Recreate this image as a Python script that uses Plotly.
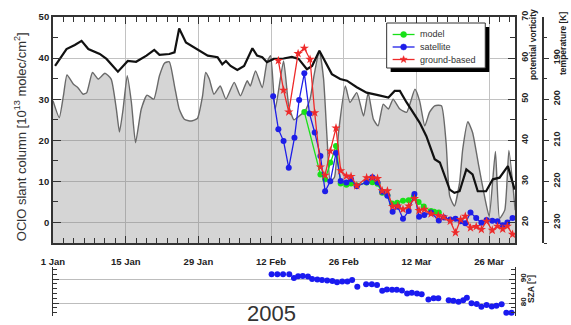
import math
import plotly.graph_objects as go

# ---------------- data (day of year 2005, Jan 1 = 1) ----------------
tick_days = [1, 15, 29, 43, 57, 71, 85]
tick_labels = ["1 Jan", "15 Jan", "29 Jan", "12 Feb", "26 Feb", "12 Mar", "26 Mar"]

# potential vorticity (grey filled curve)
pv_days = [1.0, 2.2, 3.0, 3.7, 4.9, 5.8, 6.8, 7.5, 8.6, 9.7, 11.0, 12.2, 13.2, 13.8, 14.5, 15.3,
           16.1, 16.9, 18.0, 19.1, 20.4, 21.5, 22.5, 23.4, 24.4, 25.3, 26.3, 27.6, 28.8, 29.8,
           30.4, 31.1, 32.0, 33.2, 34.3, 35.9, 37.1, 38.4, 39.0, 40.0, 41.3, 42.2, 42.9, 43.8,
           45.4, 46.4, 47.4, 48.5, 49.5, 50.5, 51.3, 52.3, 53.1, 53.8, 54.4, 55.2, 56.0, 57.3,
           58.2, 59.5, 60.8, 61.7, 62.7, 63.6, 64.6, 65.6, 66.5, 67.8, 69.1, 70.7, 71.6, 72.6,
           73.5, 74.5, 75.8, 76.7, 77.4, 78.3, 79.3, 79.9, 80.9, 81.8, 83.0, 84.1, 85.0, 86.2,
           87.0, 88.0, 88.8, 90.0]
pv_vals = [49.6, 45.5, 50.8, 55.9, 53.7, 52.8, 51.2, 51.6, 56.5, 54.9, 56.3, 54.9, 47.6, 42.0, 47.6, 55.7,
           49.2, 39.4, 47.6, 51.0, 50.0, 55.7, 58.8, 59.1, 53.2, 47.6, 45.1, 44.7, 45.3, 50.8,
           56.5, 54.9, 51.2, 53.2, 50.0, 54.1, 50.8, 54.5, 53.2, 56.9, 52.8, 59.0, 60.6, 47.6,
           59.3, 48.4, 45.0, 46.0, 47.0, 50.0, 56.0, 61.8, 55.0, 40.0, 30.0, 31.0, 42.0, 53.2,
           49.2, 51.6, 45.9, 51.6, 45.1, 43.5, 48.8, 47.6, 50.0, 47.6, 46.8, 52.4, 49.6, 43.5,
           46.8, 48.4, 48.4, 39.4, 26.4, 24.0, 29.7, 37.8, 44.5, 41.9, 33.7, 26.4, 21.5, 37.3,
           21.0, 23.0, 37.5, 23.0]

# temperature (black line)
t_days = [1.4, 3.6, 5.2, 6.5, 7.8, 10.0, 11.3, 13.5, 15.4, 17.0, 19.0, 20.5, 21.5, 23.4, 24.4,
          25.3, 26.6, 28.8, 30.8, 32.7, 33.6, 34.3, 35.2, 36.5, 37.8, 39.4, 40.3, 41.3, 42.2,
          43.5, 45.4, 47.0, 48.3, 49.9, 50.9, 52.3, 53.4, 54.7, 56.3, 57.6, 59.5, 61.4, 63.6,
          65.6, 66.8, 67.8, 69.1, 70.3, 71.6, 72.9, 74.5, 75.5, 76.4, 77.4, 78.3, 79.3, 80.6,
          81.8, 82.8, 84.4, 85.7, 87.0, 88.6, 89.9]
t_vals = [191.9, 187.8, 186.8, 185.8, 187.8, 189.0, 190.2, 193.3, 190.7, 190.9, 189.4, 188.0, 189.2, 189.0, 188.6,
          182.8, 186.2, 187.8, 189.4, 189.8, 191.5, 190.7, 191.9, 192.9, 191.9, 187.6, 189.4, 189.8, 191.0,
          190.2, 190.1, 189.7, 190.2, 192.7, 191.9, 188.2, 190.7, 193.9, 195.1, 195.5, 197.1, 198.4, 199.0,
          199.6, 198.0, 198.0, 200.8, 203.2, 205.7, 209.0, 214.6, 215.4, 218.3, 222.0, 222.8, 222.4, 217.1,
          218.3, 222.4, 222.4, 219.5, 219.1, 216.3, 222.0]

# OClO slant columns [1e13 molec/cm2]
model_days = [49.4, 52.5, 53.4, 54.4, 55.5, 56.4, 57.5, 58.4, 59.5, 61.4, 62.5, 63.5, 64.4, 65.4,
              66.3, 67.3, 68.4, 69.5, 70.5, 71.4, 72.4, 73.8, 74.4, 75.3]
model_vals = [26.9, 11.7, 10.5, 14.6, 18.6, 9.5, 9.2, 9.5, 9.0, 9.7, 9.8, 9.4, 7.2, 6.6,
              4.6, 4.8, 5.3, 5.4, 6.3, 5.0, 3.9, 2.8, 2.6, 2.4]

sat_days = [43.4, 44.4, 45.4, 46.4, 47.5, 48.4, 49.4, 50.4, 51.4, 52.5, 53.4, 54.4, 55.5, 56.4,
            57.5, 58.4, 59.5, 61.4, 62.5, 63.5, 64.4, 65.4, 66.4, 67.4, 68.4, 69.5, 70.6, 71.5,
            72.5, 73.8, 75.3, 76.3, 77.5, 78.5, 79.5, 80.4, 81.4, 82.5, 83.5, 84.5, 85.6, 86.6,
            87.6, 88.5, 89.5]
sat_vals = [30.7, 22.7, 19.8, 13.3, 20.6, 29.8, 36.3, 26.5, 21.9, 16.2, 7.6, 10.0, 16.9, 10.1,
            9.7, 10.5, 8.8, 9.8, 11.0, 9.7, 7.5, 6.5, 2.6, 3.8, 0.9, 2.8, 6.9, 1.4,
            1.8, 2.4, 0.5, 1.2, 0.7, 0.9, 0.3, -0.2, 2.4, 1.1, -0.1, 0.6, 0.4, 0.3,
            -0.7, 0.0, 1.1]

gb_days = [44.4, 45.4, 46.4, 48.2, 49.4, 50.5, 51.4, 52.5, 53.4, 54.4, 55.5, 56.4, 57.5, 58.4,
           59.5, 61.4, 62.5, 63.5, 64.4, 65.4, 66.4, 67.4, 68.4, 69.5, 70.6, 71.5, 72.5, 73.8,
           75.2, 76.2, 77.5, 78.5, 79.5, 80.4, 81.4, 82.5, 83.5, 84.5, 85.6, 86.6, 87.6, 88.5, 89.5]
gb_vals = [39.4, 32.2, 26.9, 41.1, 42.4, 39.7, 26.7, 13.5, 11.5, 17.4, 23.0, 12.6, 11.3, 11.2,
           8.9, 10.9, 10.9, 10.7, 7.7, 7.7, 3.9, 4.0, 3.2, 4.0, 5.8, 2.9, 3.2, 2.1,
           1.7, 1.3, 0.3, -2.5, 0.7, 1.5, -1.3, -1.0, -1.7, 0.3, -1.9, -0.9, -1.6, -0.9, -2.9]

# solar zenith angle (lower panel)
sza_days = [43.1, 44.2, 45.3, 46.5, 47.4, 48.2, 49.1, 50.1, 50.9, 51.9, 52.8, 53.8, 54.8, 55.7,
            56.7, 57.7, 58.6, 59.6, 61.3, 62.4, 63.4, 64.4, 65.3, 66.3, 67.2, 68.2, 69.2, 70.1,
            71.1, 72.0, 73.3, 74.3, 75.2, 77.2, 78.1, 79.1, 80.0, 80.7, 81.6, 82.6, 83.5, 84.5,
            85.5, 86.4, 87.4, 88.3, 89.3]
sza_vals = [92.0, 92.0, 92.0, 92.0, 90.4, 91.2, 91.3, 91.0, 90.0, 89.8, 89.6, 89.4, 89.2, 88.6,
            89.0, 89.0, 89.6, 86.8, 87.8, 87.8, 87.5, 85.1, 85.6, 85.5, 85.5, 85.2, 84.0, 84.3,
            84.0, 83.7, 81.5, 82.0, 82.0, 81.2, 80.9, 80.5, 81.2, 82.2, 79.9, 79.6, 78.5, 79.2,
            78.6, 78.9, 79.5, 76.0, 76.0]

series_names = ["model", "satellite", "ground-based"]
series_colors = ["#18e018", "#1e1ee8", "#ee2a2a"]

# ---------------- layout helpers ----------------
L, R, T, B = 53, 16, 17, 9
W, H = 571, 325
PW, PH = W - L - R, H - T - B


def px_x(p):
    return (p - L) / PW


def px_y(p):
    return (H - B - p) / PH


XD = px_x(517)
ink = "#222222"
grid = "#c2c2c2"
tickfont = dict(family="Arial", size=9.5, color=ink, weight="bold")
rtickfont = dict(family="Arial", size=9, color=ink, weight="bold")

fig = go.Figure()

fig.add_trace(go.Scatter(x=pv_days, y=pv_vals, mode="lines", fill="tozeroy",
                         fillcolor="rgba(128,128,128,0.33)",
                         line=dict(color="#6a6a6a", width=1.4, shape="spline", smoothing=0.5),
                         xaxis="x", yaxis="y", showlegend=False, hoverinfo="skip",
                         name="potential vorticity"))
fig.add_trace(go.Scatter(x=t_days, y=t_vals, mode="lines", line=dict(color="#111111", width=2.2),
                         xaxis="x", yaxis="y2", showlegend=False, hoverinfo="skip",
                         name="temperature"))
symbols = ["circle", "circle", "star"]
sizes = [6, 6, 7]
for name, col, sym, sz, xs, ys in zip(series_names, series_colors, symbols, sizes,
                                      [model_days, sat_days, gb_days],
                                      [model_vals, sat_vals, gb_vals]):
    fig.add_trace(go.Scatter(x=xs, y=ys, mode="lines+markers", name=name,
                             line=dict(color=col, width=1.3),
                             marker=dict(color=col, size=sz, symbol=sym),
                             xaxis="x", yaxis="y3", showlegend=False))
fig.add_trace(go.Scatter(x=sza_days, y=sza_vals, mode="markers",
                         marker=dict(color="#1a1af0", size=6),
                         xaxis="x2", yaxis="y4", showlegend=False, hoverinfo="skip", name="SZA"))

minor_days = list(range(1, 91, 2))

# ---------------- legend box (drawn by hand, shadowed) ----------------
shapes = [
    dict(type="rect", xref="paper", yref="paper", x0=px_x(392), x1=px_x(491),
         y0=px_y(72), y1=px_y(27), fillcolor="black", line=dict(width=0), layer="above"),
    dict(type="rect", xref="paper", yref="paper", x0=px_x(388), x1=px_x(487),
         y0=px_y(68), y1=px_y(23), fillcolor="white",
         line=dict(color="#333", width=1), layer="above"),
]
annotations = []
rows = [34.5, 47, 59.5]
for i, (name, col) in enumerate(zip(series_names, series_colors)):
    yy = rows[i]
    shapes.append(dict(type="line", xref="paper", yref="paper", x0=px_x(394), x1=px_x(416),
                       y0=px_y(yy), y1=px_y(yy), line=dict(color=col, width=1.3), layer="above"))
    cx = 405
    if i < 2:
        shapes.append(dict(type="circle", xref="paper", yref="paper",
                           x0=px_x(cx - 3), x1=px_x(cx + 3), y0=px_y(yy + 3), y1=px_y(yy - 3),
                           fillcolor=col, line=dict(color=col, width=0.5), layer="above"))
    else:
        pts = []
        for k in range(10):
            r = 3.8 if k % 2 == 0 else 1.6
            a = -math.pi / 2 + k * math.pi / 5
            pts.append((px_x(cx + r * math.cos(a)), px_y(yy + r * math.sin(a))))
        path = "M " + " L ".join(f"{a:.5f},{b:.5f}" for a, b in pts) + " Z"
        shapes.append(dict(type="path", xref="paper", yref="paper", path=path,
                           fillcolor=col, line=dict(color=col, width=0.5), layer="above"))
    annotations.append(dict(text=name, x=px_x(419), y=px_y(yy), xref="paper", yref="paper",
                            showarrow=False, xanchor="left", yanchor="middle",
                            font=dict(family="Arial", size=9, color="#333")))

annotations += [
    dict(text="OClO slant column [10<sup>13</sup> molec/cm<sup>2</sup>]", x=px_x(20),
         y=px_y(137), xref="paper", yref="paper", textangle=-90, showarrow=False,
         font=dict(family="Arial", size=13, color="#333"), xanchor="center", yanchor="middle"),
    dict(text="potential vorticity", x=px_x(535), y=px_y(45), xref="paper", yref="paper",
         textangle=-90, showarrow=False, xanchor="center", yanchor="middle",
         font=dict(family="Arial", size=8.5, color=ink, weight="bold")),
    dict(text="temperature [K]", x=px_x(565), y=px_y(43), xref="paper", yref="paper",
         textangle=-90, showarrow=False, xanchor="center", yanchor="middle",
         font=dict(family="Arial", size=8.5, color=ink, weight="bold")),
    dict(text="SZA [°]", x=px_x(533), y=px_y(289), xref="paper", yref="paper",
         textangle=-90, showarrow=False, xanchor="center", yanchor="middle",
         font=dict(family="Arial", size=8.5, color=ink, weight="bold")),
    dict(text="2005", x=px_x(272), y=px_y(313), xref="paper", yref="paper",
         showarrow=False, xanchor="center", yanchor="middle",
         font=dict(family="Arial", size=22, color="#333")),
]

fig.update_layout(
    width=W, height=H,
    margin=dict(l=L, r=R, t=T, b=B),
    paper_bgcolor="white", plot_bgcolor="white",
    font=dict(family="Arial", color=ink),
    showlegend=False,
    xaxis=dict(domain=[0, XD], range=[1, 90], anchor="y",
               tickmode="array", tickvals=tick_days, ticktext=tick_labels,
               ticks="inside", ticklen=7, tickwidth=1.2, tickcolor="#333",
               minor=dict(tickmode="array", tickvals=minor_days, ticks="inside", ticklen=5,
                          tickwidth=1, tickcolor="#333", showgrid=False),
               showline=True, linecolor="#333", linewidth=1.5, mirror="ticks",
               showgrid=True, gridcolor=grid, gridwidth=1, zeroline=False,
               tickfont=tickfont, ticklabelstandoff=9),
    yaxis=dict(domain=[px_y(243), 1], range=[15, 70], side="right", anchor="x",
               tickmode="array", tickvals=[20, 30, 40, 50, 60, 70],
               ticks="inside", ticklen=7, tickwidth=1.2, tickcolor="#333",
               minor=dict(tickmode="array", tickvals=[25, 35, 45, 55, 65], ticks="inside",
                          ticklen=5, tickcolor="#333", showgrid=False),
               showline=True, linecolor="#333", linewidth=1.5,
               showgrid=True, gridcolor=grid, gridwidth=1, zeroline=False,
               tickangle=-90, tickfont=rtickfont, ticklabelstandoff=0),
    yaxis2=dict(overlaying="y", anchor="free", position=px_x(545), side="right",
                range=[235, 180], tickmode="array", tickvals=[190, 200, 210, 220, 230],
                ticks="outside", ticklen=5, tickwidth=1.2, tickcolor="#333",
                minor=dict(tickmode="array", tickvals=[185, 195, 205, 215, 225, 235],
                           ticks="outside", ticklen=3, tickcolor="#333"),
                showline=True, linecolor="#333", linewidth=1.5,
                showgrid=False, zeroline=False, tickangle=-90, tickfont=rtickfont,
                ticklabelstandoff=0),
    yaxis3=dict(overlaying="y", anchor="x", side="left", range=[-5, 50],
                tickmode="array", tickvals=[0, 10, 20, 30, 40, 50],
                ticks="inside", ticklen=8, tickwidth=1.2, tickcolor="#333",
                minor=dict(tickmode="array", tickvals=[-5, 5, 15, 25, 35, 45], ticks="inside",
                           ticklen=5, tickcolor="#333"),
                showline=True, linecolor="#333", linewidth=1.8,
                showgrid=False, zeroline=False, tickfont=tickfont),
    xaxis2=dict(domain=[0, XD], range=[1, 90], anchor="y4", showline=False,
                showticklabels=False, ticks="", showgrid=False, zeroline=False),
    yaxis4=dict(domain=[0, px_y(267)], anchor="x2", side="right", range=[74.6, 95],
                tickmode="array", tickvals=[80, 90],
                ticks="inside", ticklen=6, tickcolor="#333",
                minor=dict(tickmode="array", tickvals=[76, 78, 82, 84, 86, 88, 92, 94],
                           ticks="inside", ticklen=4, tickcolor="#333"),
                showline=True, linecolor="#333", linewidth=1.3, mirror="ticks",
                showgrid=True, gridcolor="#bdbdbd", zeroline=False,
                tickangle=-90, tickfont=dict(family="Arial", size=8, color=ink, weight="bold"),
                ticklabelstandoff=0),
    shapes=shapes,
    annotations=annotations,
)

fig.write_html("out.html", config={"displayModeBar": False})
